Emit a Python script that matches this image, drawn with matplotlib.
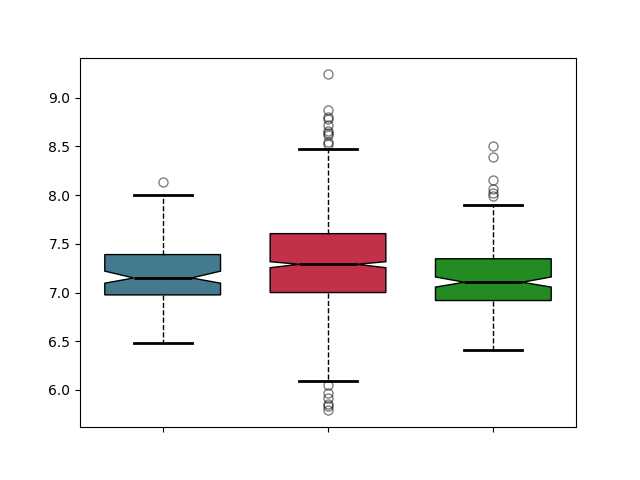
import matplotlib
matplotlib.use("Agg")
import matplotlib.pyplot as plt

groups = ["A", "B", "C"]
q1 = [6.976, 7.00, 6.918]
q3 = [7.39, 7.605, 7.347]
medians = [7.15, 7.29, 7.106]
ci_low = [7.096, 7.255, 7.056]
ci_high = [7.22, 7.317, 7.16]
whisker_low = [6.48, 6.09, 6.41]
whisker_high = [8.00, 8.474, 7.894]
outliers = [
    [8.14],
    [9.24, 8.87, 8.80, 8.78, 8.72, 8.66, 8.64, 8.62, 8.55, 8.53,
     6.05, 5.97, 5.92, 5.86, 5.84, 5.79],
    [8.50, 8.39, 8.16, 8.06, 8.02, 7.99],
]
colors = ["#447a8e", "#c3304a", "#228b22"]

stats = []
for i, g in enumerate(groups):
    stats.append(dict(label="", med=medians[i], q1=q1[i], q3=q3[i],
                      cilo=ci_low[i], cihi=ci_high[i],
                      whislo=whisker_low[i], whishi=whisker_high[i],
                      fliers=outliers[i]))

fig, ax = plt.subplots(figsize=(6.4, 4.8), dpi=100)
bp = ax.bxp(stats, shownotches=True, patch_artist=True, widths=0.7,
            medianprops=dict(color="black", linewidth=2),
            whiskerprops=dict(linestyle="--", color="black"),
            capprops=dict(color="black", linewidth=2),
            flierprops=dict(marker="o", markerfacecolor="none",
                            markeredgecolor="black", alpha=0.5, markersize=6.5),
            boxprops=dict(edgecolor="black"))
for patch, c in zip(bp["boxes"], colors):
    patch.set_facecolor(c)
ax.set_xticklabels(["", "", ""])
fig.savefig("out.png")
